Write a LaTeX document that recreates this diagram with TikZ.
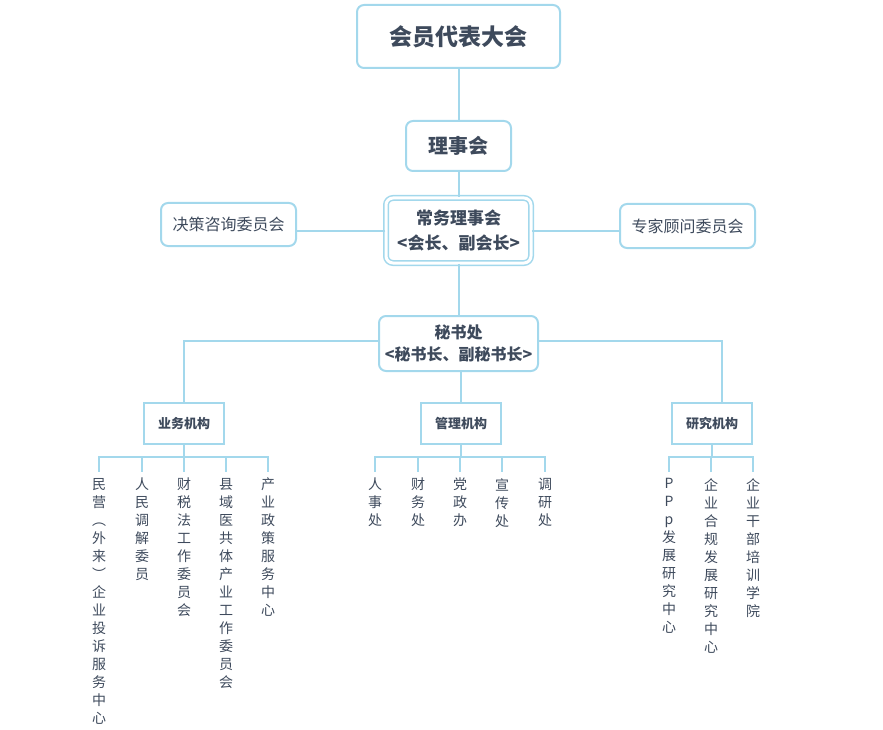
\documentclass[tikz,border=0pt]{standalone}
\usepackage{fontspec}
\setmainfont{Noto Sans CJK SC}
\definecolor{lineblue}{HTML}{A3D8EC}
\definecolor{txtgray}{HTML}{3E4A5C}

\begin{document}
\begin{tikzpicture}
      [x=1pt,y=-1pt,%%%%%%%%%%%%%%%%%%%%%%%%%%%%%%
      box/.style={rectangle,rounded corners=7pt,draw=lineblue,line width=2pt,text=txtgray,align=center,inner sep=0pt},
      unit/.style={rectangle,draw=lineblue,line width=2pt,text=txtgray,inner sep=0pt,minimum width=80pt,minimum height=41pt,font=\fontsize{13}{15}\selectfont\bfseries},
      leaf/.style={anchor=north,text=txtgray,align=center,inner xsep=0pt,inner ysep=6pt,font=\fontsize{14}{18}\selectfont},
      link/.style={draw=lineblue,line width=2pt},
      ]%%%%%%%%%%%%%%%%%%%%%%%%%%%%%%
      \useasboundingbox (0,0) rectangle (883,730);

      \node[box,minimum width=203pt,minimum height=63pt,font=\fontsize{23}{26}\selectfont\bfseries] (dbdh) at (458.5,36.5) {会员代表大会};
      \node[box,minimum width=105pt,minimum height=50pt,font=\fontsize{20}{24}\selectfont\bfseries] (lsh) at (458.5,146) {理事会};
      \node[box,double=white,double distance=3pt,line width=1.5pt,minimum width=145pt,minimum height=65pt,font=\fontsize{17}{25}\selectfont\bfseries] (cwlsh) at (458.5,230.5) {常务理事会\\<会长、副会长>};
      \node[box,minimum width=135pt,minimum height=43pt,font=\fontsize{16}{20}\selectfont] (jczx) at (228.5,224.5) {决策咨询委员会};
      \node[box,minimum width=135pt,minimum height=44pt,font=\fontsize{16}{20}\selectfont] (zjgw) at (687.5,226) {专家顾问委员会};
      \node[box,minimum width=159pt,minimum height=55pt,font=\fontsize{16}{22}\selectfont\bfseries] (msc) at (458.5,343.5) {秘书处\\<秘书长、副秘书长>};

      \node[unit] (ywjg) at (184,423.5) {业务机构};
      \node[unit] (gljg) at (461,423.5) {管理机构};
      \node[unit] (yjjg) at (712,423.5) {研究机构};

      % \node[box] at (458.5,300) {};
      \draw[link] (dbdh) -- (lsh);
      \draw[link] (lsh) -- (cwlsh);
      \draw[link] (cwlsh) -- (msc);
      \draw[link] (cwlsh.west) -- (jczx.east |- cwlsh.west);
      \draw[link] (cwlsh.east) -- (zjgw.west |- cwlsh.east);
      \draw[link] ([yshift=2.5pt]msc.west) -| (ywjg.north);
      \draw[link] (gljg.north |- msc.south) -- (gljg.north);
      \draw[link] ([yshift=2.5pt]msc.east) -| ([xshift=10pt]yjjg.north);

      \foreach \nm/\x/\txt in {ms/99/{民\\营\\︵\\外\\来\\︶\\企\\业\\投\\诉\\服\\务\\中\\心},
                               rm/142/{人\\民\\调\\解\\委\\员},
                               cs/184/{财\\税\\法\\工\\作\\委\\员\\会},
                               xy/226/{县\\域\\医\\共\\体\\产\\业\\工\\作\\委\\员\\会},
                               cy/268/{产\\业\\政\\策\\服\\务\\中\\心}}
        {\node[leaf] (\nm) at (\x,472) {\txt};
         \draw[link] (ywjg.south) -- ++(0,12) -| (\nm.north);}

      \foreach \nm/\x/\txt in {rs/375/{人\\事\\处},
                               cw/418/{财\\务\\处},
                               dz/460/{党\\政\\办},
                               xc/502/{宣\\传\\处},
                               dy/545/{调\\研\\处}}
        {\node[leaf] (\nm) at (\x,472) {\txt};
         \draw[link] (gljg.south) -- ++(0,12) -| (\nm.north);}

      \foreach \nm/\x/\txt in {pp/669/{P\\P\\p\\发\\展\\研\\究\\中\\心},
                               hg/711/{企\\业\\合\\规\\发\\展\\研\\究\\中\\心},
                               gb/753/{企\\业\\干\\部\\培\\训\\学\\院}}
        {\node[leaf] (\nm) at (\x,472) {\txt};
         \draw[link] (yjjg.south) -- ++(0,12) -| (\nm.north);}
    \end{tikzpicture}
\end{document}
